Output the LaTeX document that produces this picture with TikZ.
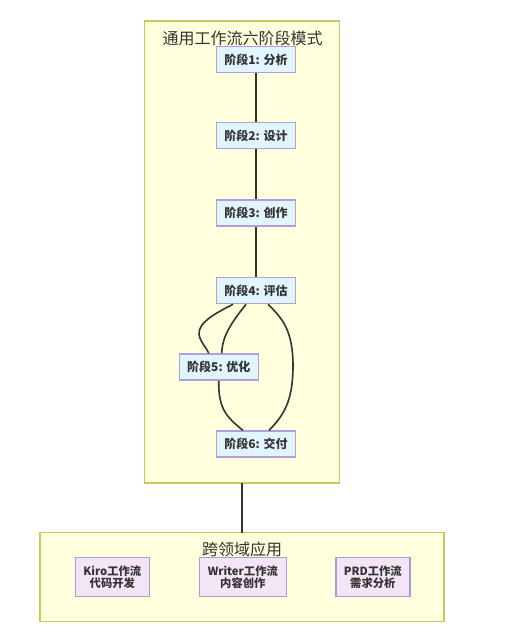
\documentclass[tikz,border=0pt]{standalone}
\usepackage{fontspec}
\setmainfont{Noto Sans CJK SC}
\usetikzlibrary{calc}
\definecolor{clfill}{HTML}{FFFFDE}
\definecolor{clborder}{HTML}{C8C860}
\definecolor{stfill}{HTML}{E1F5FE}
\definecolor{stborder}{HTML}{B29CE0}
\definecolor{apfill}{HTML}{F3E5F5}
\definecolor{apborder}{HTML}{B096DA}
\definecolor{txt}{HTML}{333333}
\tikzset{
  cluster/.style={draw=clborder, fill=clfill, line width=1.3pt, inner sep=0pt},
  stagebox/.style={draw=stborder, fill=stfill, line width=1.6pt, minimum width=79pt, minimum height=26pt, inner sep=0pt, font=\fontsize{12}{14}\selectfont\bfseries, text=txt},
  appbox/.style={draw=apborder, fill=apfill, line width=1.5pt, minimum height=39pt, inner sep=0pt, font=\fontsize{11.3}{12.5}\selectfont\bfseries, text=txt, align=center},
  cltitle/.style={font=\fontsize{16}{18}\selectfont, text=txt},
  link/.style={draw=txt, line width=1.6pt}
}
\begin{document}
\begin{tikzpicture}[x=1pt,y=-1pt]
\useasboundingbox (0,0) rectangle (521,637);
\node[cluster, minimum width=195pt, minimum height=462pt] (top) at (242,252) {};
\node[cluster, minimum width=404pt, minimum height=89pt] (bot) at (242,577) {};
\node[cltitle] (ttop) at (242.5,38) {通用工作流六阶段模式};
\node[cltitle] (tbot) at (242,549) {跨领域应用};
% connector between clusters
\coordinate (c1) at (242,483);
\coordinate (c2) at (242,532.5);
\draw[link] (c1) -- (c2);
% stages
\node[stagebox] (s1) at (256,59.5) {阶段1: 分析};
\node[stagebox] (s2) at (256,135.5) {阶段2: 设计};
\node[stagebox] (s3) at (256,213) {阶段3: 创作};
\node[stagebox] (s4) at (256,290.5) {阶段4: 评估};
\node[stagebox] (s5) at (218.8,367) {阶段5: 优化};
\node[stagebox] (s6) at (256,444.2) {阶段6: 交付};
\draw[link] (s1) -- (s2);
\draw[link] (s2) -- (s3);
\draw[link] (s3) -- (s4);
\draw[link] ($(s4.south)+(-23,0)$) .. controls (218,312) and (198,322) .. (199,334) .. controls (200,342) and (206,347) .. ($(s5.north)+(-10,0)$);
\draw[link] ($(s4.south)+(-10,0)$) .. controls (232,322) and (222,336) .. ($(s5.north)+(3,0)$);
\draw[link] ($(s5.south)+(0,0)$) .. controls (218,410) and (228,418) .. ($(s6.north)+(-13,0)$);
\draw[link] ($(s4.south)+(12,0)$) .. controls (282,318) and (293,330) .. (293,366) .. controls (293,402) and (283,416) .. ($(s6.north)+(13,0)$);
% application nodes
\node[appbox, minimum width=74pt] (kiro) at (112.3,577) {Kiro工作流\\代码开发};
\node[appbox, minimum width=87pt] (writer) at (242.8,577) {Writer工作流\\内容创作};
\node[appbox, minimum width=74pt] (prd) at (372.8,577) {PRD工作流\\需求分析};
\end{tikzpicture}
\end{document}
